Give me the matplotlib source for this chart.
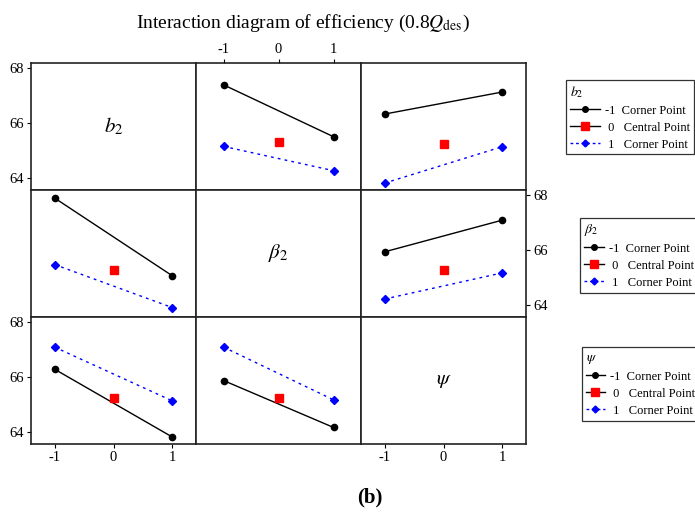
import matplotlib
matplotlib.use("Agg")
import matplotlib.pyplot as plt
from matplotlib.lines import Line2D

plt.rcParams['font.family'] = ['Liberation Serif', 'DejaVu Serif']
plt.rcParams['mathtext.fontset'] = 'stix'

# ---- data ----
corner_x = [-1, 1]
center_x = 0
level_labels = ["-1  Corner Point", " 0   Central Point", " 1   Corner Point"]
factor_names = ["$b_2$", r"$\beta_2$", r"$\psi$"]
x_ticks = [-1, 0, 1]
y_ticks = [64, 66, 68]

r0c1_low = [67.39, 65.51]
r0c1_center = 65.33
r0c1_high = [65.16, 64.28]

r0c2_low = [66.33, 67.13]
r0c2_center = 65.26
r0c2_high = [63.83, 65.15]

r1c0_low = [67.89, 65.07]
r1c0_center = 65.29
r1c0_high = [65.48, 63.92]

r1c2_low = [65.94, 67.09]
r1c2_center = 65.29
r1c2_high = [64.23, 65.18]

r2c0_low = [66.29, 63.83]
r2c0_center = 65.25
r2c0_high = [67.09, 65.14]

r2c1_low = [65.88, 64.18]
r2c1_center = 65.25
r2c1_high = [67.09, 65.18]

panels = {
    (0, 1): (r0c1_low, r0c1_center, r0c1_high),
    (0, 2): (r0c2_low, r0c2_center, r0c2_high),
    (1, 0): (r1c0_low, r1c0_center, r1c0_high),
    (1, 2): (r1c2_low, r1c2_center, r1c2_high),
    (2, 0): (r2c0_low, r2c0_center, r2c0_high),
    (2, 1): (r2c1_low, r2c1_center, r2c1_high),
}

W, H = 695, 514
fig = plt.figure(figsize=(W / 100, H / 100), dpi=100)

col_left = [31, 196, 361]
col_w = 165
row_top = [63, 190, 317]
row_h = 127
ylim = (63.58, 68.18)
xlims = [(-1.4, 1.4), (-1.5, 1.5), (-1.4, 1.4)]

axes = {}
for r in range(3):
    for c in range(3):
        ax = fig.add_axes([col_left[c] / W, 1 - (row_top[r] + row_h) / H,
                           col_w / W, row_h / H])
        ax.set_xlim(*xlims[c])
        ax.set_ylim(*ylim)
        ax.set_xticks([])
        ax.set_yticks([])
        for s in ax.spines.values():
            s.set_linewidth(1.2)
            s.set_color('#222222')
        axes[(r, c)] = ax
        if r == c:
            ax.text(0.5, 0.5, factor_names[r], transform=ax.transAxes,
                    ha='center', va='center', fontsize=15)

for (r, c), (low, center, high) in panels.items():
    ax = axes[(r, c)]
    ax.plot(corner_x, low, color='black', lw=1.0, marker='o', ms=4.5, zorder=3)
    ax.plot([center_x], [center], linestyle='none', marker='s', ms=6,
            color='red', zorder=3)
    ax.plot(corner_x, high, color='blue', lw=1.0, linestyle=(0, (2, 3)),
            marker='D', ms=4, zorder=3)

tick_kw = dict(direction='out', length=3, width=0.8, labelsize=10.5, pad=2)
for r in (0, 2):
    ax = axes[(r, 0)]
    ax.set_yticks(y_ticks)
    ax.tick_params(axis='y', **tick_kw)
ax = axes[(1, 2)]
ax.yaxis.tick_right()
ax.set_yticks(y_ticks)
ax.tick_params(axis='y', **tick_kw)
ax = axes[(0, 1)]
ax.xaxis.tick_top()
ax.set_xticks(x_ticks)
ax.set_xticklabels([str(v) for v in x_ticks])
ax.tick_params(axis='x', **tick_kw)
for c in (0, 2):
    ax = axes[(2, c)]
    ax.set_xticks(x_ticks)
    ax.set_xticklabels([str(v) for v in x_ticks])
    ax.tick_params(axis='x', **tick_kw)

fig.text(303 / W, 1 - 23 / H, r"Interaction diagram of efficiency (0.8$Q_{\rm des}$)",
         ha='center', va='center', fontsize=14)
fig.text(370 / W, 1 - 497 / H, "(b)", ha='center', va='center',
         fontsize=15, fontweight='bold')

handles = [
    Line2D([], [], color='black', lw=1.0, marker='o', ms=4),
    Line2D([], [], color='black', lw=1.0, marker='s', ms=6,
           markerfacecolor='red', markeredgecolor='red'),
    Line2D([], [], color='blue', lw=1.0, linestyle=(0, (2, 2)), marker='D', ms=3.5),
]
legend_pos = [(566, 80), (580, 218), (582, 347)]
handle_lengths = [2.4, 1.6, 1.5]
for (lx, ly), name, hl in zip(legend_pos, factor_names, handle_lengths):
    leg = fig.legend(handles, level_labels, title=name, loc='upper left',
                     bbox_to_anchor=(lx / W, 1 - ly / H), fontsize=9,
                     title_fontsize=10, frameon=True, fancybox=False,
                     edgecolor='#333333', framealpha=1, handlelength=hl,
                     handletextpad=0.4, labelspacing=0.4, borderpad=0.3,
                     borderaxespad=0)
    leg._legend_box.align = 'left'
    leg.get_frame().set_linewidth(0.9)

fig.savefig("out.png", dpi=100)
